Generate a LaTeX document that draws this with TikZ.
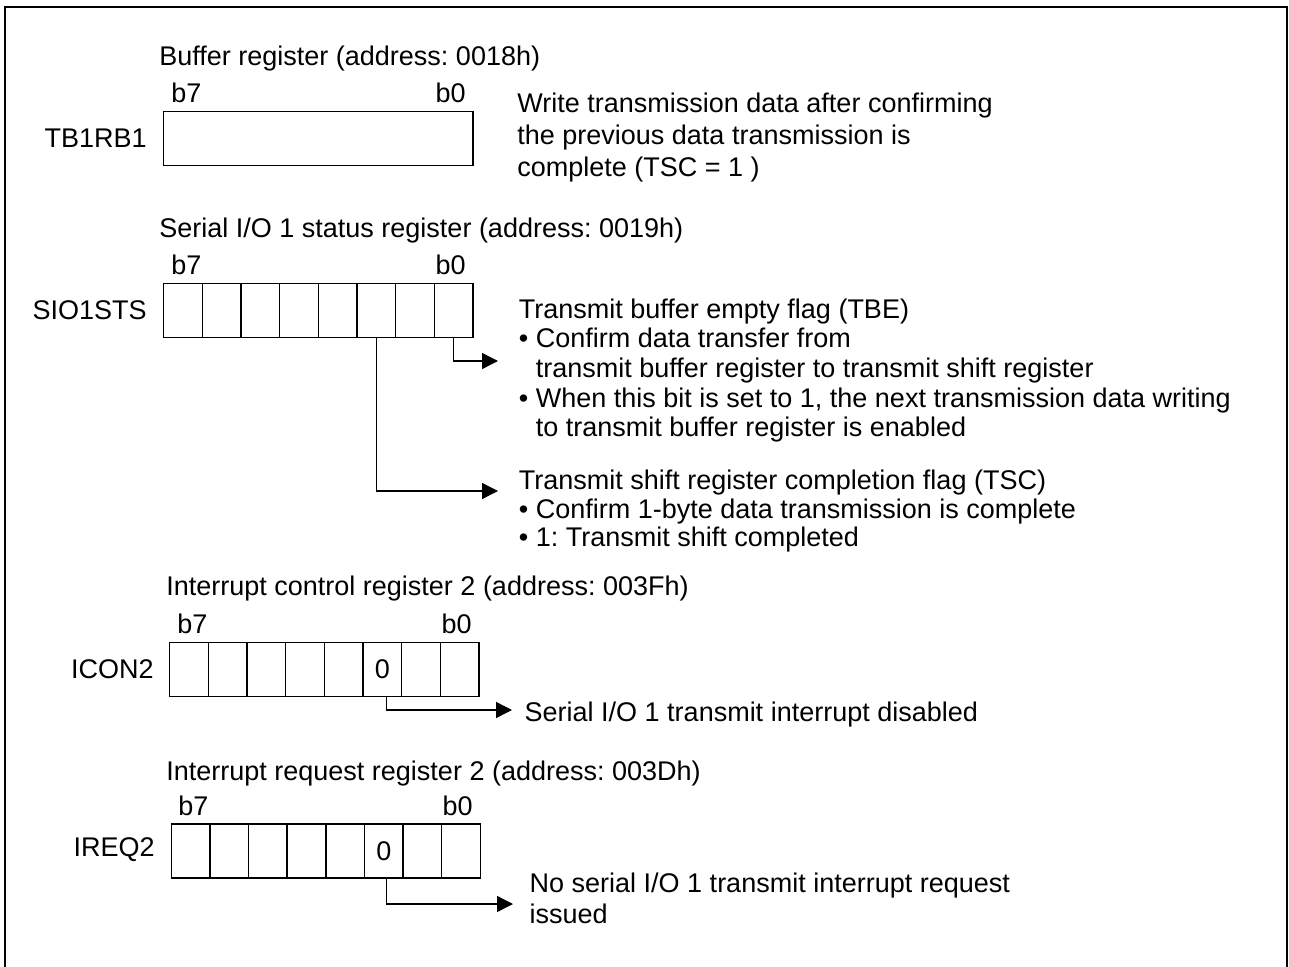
\documentclass[tikz,border=0pt]{standalone}
\usepackage{fontspec}
\setmainfont{Liberation Sans}
\usetikzlibrary{arrows.meta}
\begin{document}
\frenchspacing
\begin{tikzpicture}[x=0.5pt,y=-0.5pt,
  txt/.style={inner sep=0pt, font=\fontsize{13.5}{16}\selectfont},
  lbl/.style={txt, anchor=base west},
  cell/.style={draw, line width=0.7pt, minimum width=19.325pt, minimum height=27pt, inner sep=0pt, anchor=north west},
  conn/.style={line width=0.7pt, -{Triangle[length=8pt,width=8pt]}},
  frame/.style={line width=1pt}]
\useasboundingbox (0,0) rectangle (1289,967);
\draw[frame] (5,967) -- (5,7) -- (1287,7) -- (1287,967);

% ---------- Buffer register ----------
\node[lbl] (t1) at (159,66) {Buffer register (address: 0018h)};
\node[cell, minimum width=154.6pt] (tb) at (163,111) {};
\node[txt, anchor=east] (tbn) at (147,138) {TB1RB1};
\node[lbl] (tb7) at (171,103) {b7};
\node[txt, anchor=base east] (tb0) at (466,103) {b0};
\node[lbl] (w1) at (517,113) {Write transmission data after confirming};
\node[lbl] (w2) at (517,145) {the previous data transmission is};
\node[lbl] (w3) at (517,177) {complete (TSC = 1 )};

% ---------- SIO1STS ----------
\node[lbl] (t2) at (159,238) {Serial I/O 1 status register (address: 0019h)};
\foreach \b in {0,...,7} \node[cell] (s\b) at ({163+(7-\b)*38.65},283) {};
\node[txt, anchor=east] (sn) at (147,310) {SIO1STS};
\node[lbl] (s7l) at (171,275) {b7};
\node[txt, anchor=base east] (s0l) at (466,275) {b0};

\node[lbl] (e1) at (518.5,319) {Transmit buffer empty flag (TBE)};
\node[lbl] (e2) at (518.5,348) {\textbullet\ Confirm data transfer from};
\node[lbl] (e3) at (518.5,377.5) {\phantom{\textbullet\ }transmit buffer register to transmit shift register};
\node[lbl] (e4) at (518.5,407.5) {\textbullet\ When this bit is set to 1, the next transmission data writing};
\node[lbl] (e5) at (518.5,437) {\phantom{\textbullet\ }to transmit buffer register is enabled};
\coordinate (tbeA) at (498,361);
\draw[conn] (s0.south) |- (tbeA);

\node[lbl] (c1) at (518.5,489.5) {Transmit shift register completion flag (TSC)};
\node[lbl] (c2) at (518.5,518) {\textbullet\ Confirm 1-byte data transmission is complete};
\node[lbl] (c3) at (518.5,546.5) {\textbullet\ 1: Transmit shift completed};
\coordinate (tscA) at (498,491);
\draw[conn] (s2.south) |- (tscA);

% ---------- ICON2 ----------
\node[lbl] (t3) at (166,595) {Interrupt control register 2 (address: 003Fh)};
\foreach \b in {0,...,7} \node[cell] (i\b) at ({169+(7-\b)*38.65},642) {};
\node[txt] (i2v) at (i2.center) {0};
\node[txt, anchor=east] (in) at (154,669) {ICON2};
\node[lbl] (i7l) at (177,633) {b7};
\node[txt, anchor=base east] (i0l) at (472,633) {b0};
\coordinate (icA) at (512,710);
\draw[conn] ([xshift=2pt]i2.south) |- (icA);
\node[lbl] (id) at (524.3,721) {Serial I/O 1 transmit interrupt disabled};

% ---------- IREQ2 ----------
\node[lbl] (t4) at (166,780) {Interrupt request register 2 (address: 003Dh)};
\foreach \b in {0,...,7} \node[cell] (q\b) at ({170.5+(7-\b)*38.65},823.3) {};
\node[txt] (q2v) at (q2.center) {0};
\node[txt, anchor=east] (qn) at (155,850) {IREQ2};
\node[lbl] (q7l) at (178,815) {b7};
\node[txt, anchor=base east] (q0l) at (473,815) {b0};
\coordinate (iqA) at (513,904);
\draw[conn] ([xshift=1.5pt]q2.south) |- (iqA);
\node[lbl] (r1) at (529.3,892.5) {No serial I/O 1 transmit interrupt request};
\node[lbl] (r2) at (529.3,923.5) {issued};
\end{tikzpicture}
\end{document}
